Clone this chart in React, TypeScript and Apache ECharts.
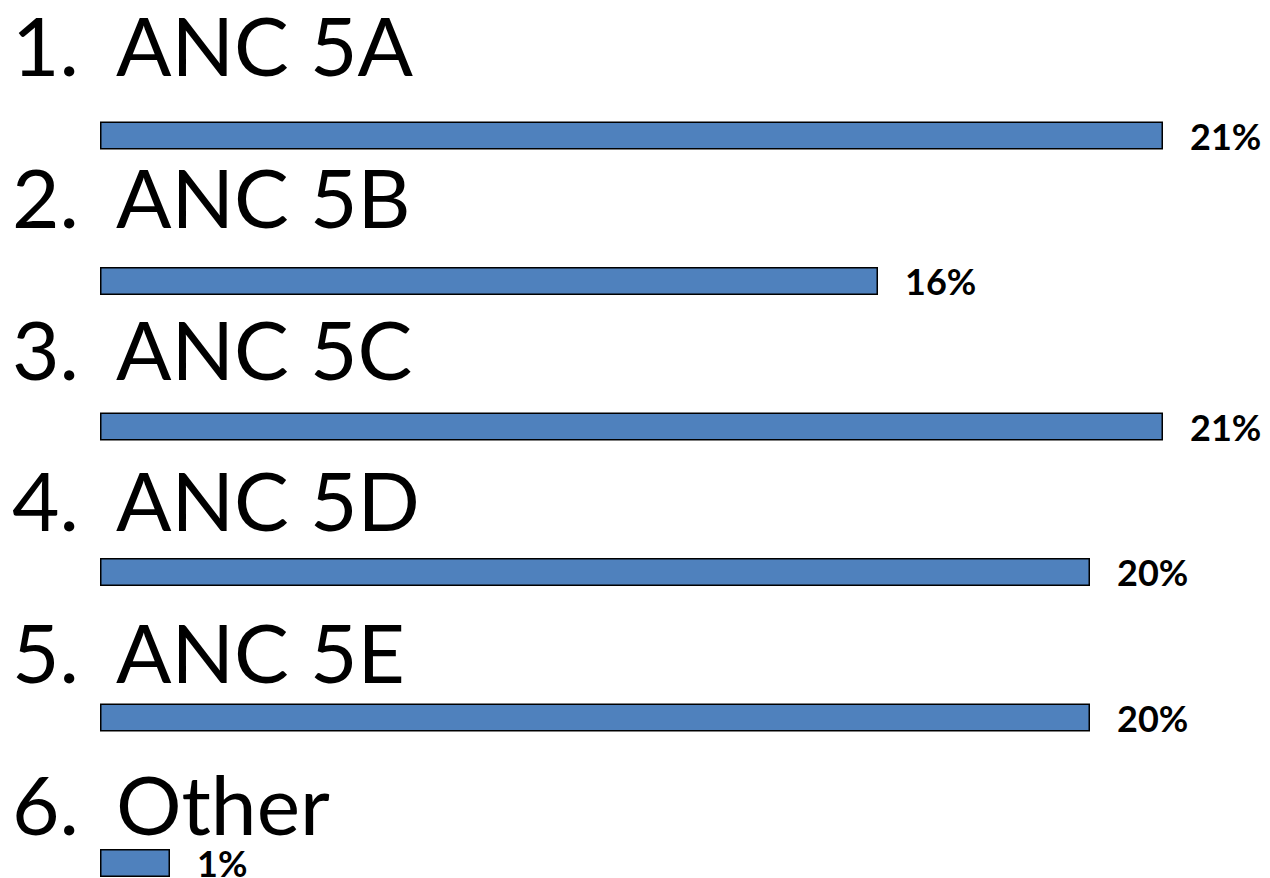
import React, { useEffect, useRef } from "react";
import * as echarts from "echarts";

const categories = ["ANC 5A", "ANC 5B", "ANC 5C", "ANC 5D", "ANC 5E", "Other"];
const values = [21.26, 15.56, 21.26, 19.8, 19.8, 1.4];

const OFF = 100;

export default function App() {
  const ref = useRef<HTMLDivElement>(null);
  useEffect(() => {
    if (!ref.current) return;
    const chart = echarts.init(ref.current, null, { renderer: "svg" });
    chart.setOption({
      animation: false,
      backgroundColor: "#ffffff",
      grid: [
        { left: 100, top: 62.75 + OFF, width: 1100, height: 873 },
        { left: 100, top: -31.9 + OFF, width: 1100, height: 910.8 },
      ],
      xAxis: [
        { type: "value", gridIndex: 0, min: 0, max: 22, show: false },
        { type: "value", gridIndex: 1, min: 0, max: 1, show: false },
      ],
      yAxis: [
        {
          type: "category",
          gridIndex: 0,
          inverse: true,
          data: categories,
          show: false,
        },
        {
          type: "category",
          gridIndex: 1,
          inverse: true,
          data: categories,
          axisLine: { show: false },
          axisTick: { show: false },
          splitLine: { show: false },
          axisLabel: {
            show: true,
            margin: 88,
            align: "left",
            verticalAlign: "middle",
            formatter: (v: string) => {
              const i = categories.indexOf(v);
              return `{n|${i + 1}.}{t|${v}}`;
            },
            rich: {
              n: {
                width: 104,
                fontSize: 82,
                lineHeight: 84,
                fontFamily: "Lato",
                color: "#000000",
                align: "left",
              },
              t: {
                fontSize: 82,
                lineHeight: 84,
                fontFamily: "Lato",
                color: "#000000",
              },
            },
          },
        },
      ],
      series: [
        {
          type: "bar",
          xAxisIndex: 0,
          yAxisIndex: 0,
          data: values,
          barWidth: 28,
          itemStyle: {
            color: "#4F81BD",
            borderColor: "#000000",
            borderWidth: 1.5,
          },
          label: {
            show: true,
            position: "right",
            distance: 27,
            formatter: (p: any) => `${Math.round(p.value)}%`,
            fontFamily: "Lato",
            fontWeight: "bold",
            fontSize: 36,
            lineHeight: 30,
            color: "#000000",
          },
        },
      ],
    });
    return () => chart.dispose();
  }, []);
  return (
    <div
      style={{
        position: "absolute",
        left: 0,
        top: 0,
        width: 1270,
        height: 878,
        overflow: "hidden",
        background: "#ffffff",
      }}
    >
      <div
        ref={ref}
        style={{ position: "absolute", left: 0, top: -OFF, width: 1270, height: 1100 }}
      />
    </div>
  );
}
